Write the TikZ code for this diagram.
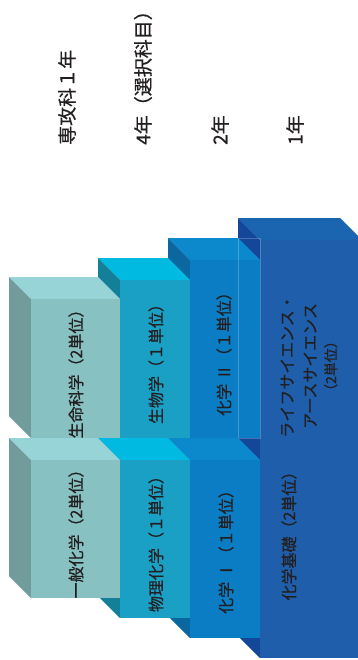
\documentclass[tikz,border=0pt]{standalone}
\usepackage{fontspec}
\setmainfont{Noto Sans CJK JP}[FakeBold=0.6]
\definecolor{txt}{HTML}{231F20}
\definecolor{cAf}{HTML}{87C1C1}\definecolor{cAt}{HTML}{97D4D7}\definecolor{cAs}{HTML}{729C9C}
\definecolor{cBf}{HTML}{1AA0C5}\definecolor{cBt}{HTML}{00BAE2}\definecolor{cBs}{HTML}{137F98}
\definecolor{cCf}{HTML}{0A7DC5}\definecolor{cCt}{HTML}{0C88CC}\definecolor{cCs}{HTML}{0A679F}
\definecolor{cDf}{HTML}{1E5EAA}\definecolor{cDt}{HTML}{1A64B0}\definecolor{cDs}{HTML}{14479A}
% #1 x1, #2 x2, #3 ytop, #4 ybot, #5 front, #6 top, #7 side
\newcommand\cuboid[7]{%
  \fill[#6] (#1-22,#3-22) -- (#2-22,#3-22) -- (#2,#3) -- (#1,#3) -- cycle;
  \fill[#7] (#1-22,#3-22) -- (#1,#3) -- (#1,#4) -- (#1-22,#4-22) -- cycle;
  \fill[#5] (#1,#3) rectangle (#2,#4);
}
\tikzset{
  head/.style={rotate=90, anchor=west, inner sep=0pt, text=txt, font=\fontsize{19}{22}\selectfont},
  lab/.style={rotate=90, inner sep=0pt, text=txt, font=\fontsize{16}{20}\selectfont, align=center},
}
\begin{document}
\begin{tikzpicture}[x=1pt,y=-1pt]
\clip (0,0) rectangle (358,660);
\fill[white] (0,0) rectangle (358,660);
% column 4
\cuboid{260}{362}{240}{658}{cDf}{cDt}{cDs}
% column 3
\cuboid{190}{260}{260}{438}{cCf}{cCt}{cCs}
\draw[white,opacity=0.22,line width=0.5pt] (238,238) rectangle (260,438);
\cuboid{190}{260}{460}{638}{cCf}{cCt}{cCs}
% column 2
\cuboid{120}{190}{280}{438}{cBf}{cBt}{cBs}
\cuboid{120}{190}{460}{618}{cBf}{cBt}{cBs}
% column 1
\cuboid{31}{120}{299}{438}{cAf}{cAt}{cAs}
\cuboid{31}{120}{460}{598}{cAf}{cAt}{cAs}
% headings
\node[head] (h1) at (67,145) {専攻科１年};
\node[head] (h2) at (143,145) {4年（選択科目）};
\node[head] (h3) at (220,145) {2年};
\node[head] (h4) at (295,145) {1年};
% labels
\node[lab] (l1) at (76,370) {生命科学（2単位）};
\node[lab] (l2) at (76,530) {一般化学（2単位）};
\node[lab] (l3) at (156,360) {生物学（１単位）};
\node[lab] (l4) at (156,540) {物理化学（１単位）};
\node[lab] (l5) at (224,350) {化学 Ⅱ（１単位）};
\node[lab] (l6) at (226,548) {化学 Ⅰ（１単位）};
\node[lab] (l7) at (289,532) {化学基礎（2単位）};
\node[lab, font=\fontsize{16}{23}\selectfont] (l8) at (309,366) {ライフサイエンス・\\アースサイエンス\\[-3pt]{\fontsize{14}{16}\selectfont （2単位）}};
\end{tikzpicture}
\end{document}
